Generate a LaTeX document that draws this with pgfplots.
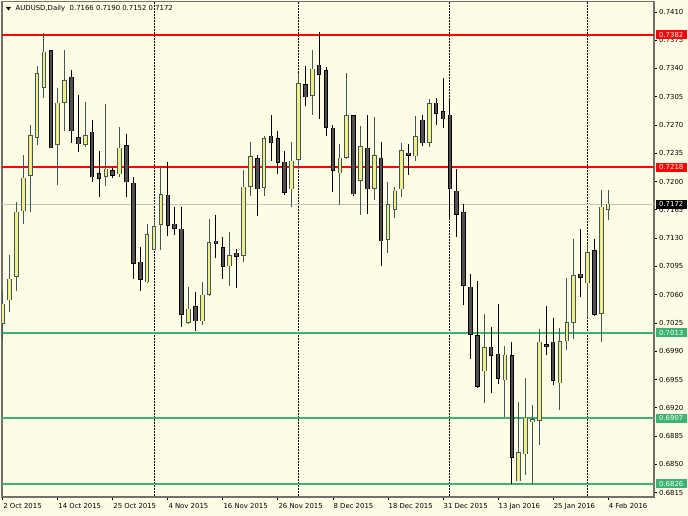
\documentclass[border=0pt]{standalone}
\usepackage{pgfplots}
\pgfplotsset{compat=1.18}
\usepackage{pgfplotstable}
\usepackage{fontspec}
\setmainfont{DejaVu Sans}
\definecolor{bgc}{RGB}{255,252,230}
\definecolor{bullfill}{RGB}{244,236,132}
\definecolor{bullline}{RGB}{60,90,90}
\definecolor{bearfill}{RGB}{80,80,80}
\definecolor{msg}{RGB}{60,179,113}
\definecolor{axisgray}{RGB}{112,112,112}
\definecolor{bidgray}{RGB}{196,196,196}
\newcommand{\lab}{\fontsize{6.9}{8}\selectfont}

\pgfplotstableread{
i O H L C
0 0.7025 0.7064 0.7002 0.7048
1 0.7054 0.7109 0.7039 0.7079
2 0.7083 0.7175 0.7064 0.7162
3 0.7164 0.7233 0.7148 0.7204
4 0.7208 0.7270 0.7162 0.7257
5 0.7255 0.7343 0.7245 0.7333
6 0.7317 0.7384 0.7304 0.7360
8 0.7246 0.7316 0.7196 0.7297
9 0.7298 0.7363 0.7263 0.7325
12 0.7246 0.7298 0.7243 0.7257
15 0.7207 0.7296 0.7195 0.7215
17 0.7210 0.7268 0.7206 0.7241
21 0.7076 0.7147 0.7074 0.7134
22 0.7116 0.7154 0.7115 0.7144
23 0.7147 0.7218 0.7115 0.7184
27 0.7026 0.7069 0.7024 0.7042
29 0.7028 0.7076 0.7023 0.7059
30 0.7061 0.7154 0.7058 0.7124
33 0.7096 0.7138 0.7071 0.7108
35 0.7109 0.7214 0.7100 0.7193
36 0.7194 0.7249 0.7182 0.7231
38 0.7193 0.7257 0.7182 0.7253
42 0.7191 0.7249 0.7169 0.7225
43 0.7228 0.7335 0.7215 0.7321
45 0.7307 0.7363 0.7283 0.7339
49 0.7211 0.7246 0.7171 0.7229
50 0.7230 0.7335 0.7228 0.7281
52 0.7202 0.7269 0.7159 0.7243
54 0.7192 0.7280 0.7177 0.7232
56 0.7129 0.7200 0.7111 0.7171
57 0.7166 0.7193 0.7155 0.7188
58 0.7191 0.7248 0.7181 0.7238
60 0.7232 0.7281 0.7226 0.7255
62 0.7249 0.7302 0.7243 0.7296
70 0.6966 0.7036 0.6926 0.6994
73 0.6955 0.6996 0.6909 0.6985
75 0.6830 0.6927 0.6829 0.6864
76 0.6863 0.6957 0.6837 0.6907
77 0.6903 0.6924 0.6826 0.6905
78 0.6905 0.7018 0.6874 0.7001
81 0.6951 0.7019 0.6917 0.7002
82 0.7003 0.7081 0.6991 0.7025
83 0.7026 0.7129 0.7005 0.7083
85 0.7075 0.7123 0.7031 0.7112
87 0.7037 0.7189 0.7001 0.7168
88 0.7166 0.7190 0.7152 0.7172
}\bull

\pgfplotstableread{
i O H L C
7 0.7362 0.7363 0.7241 0.7242
10 0.7329 0.7338 0.7248 0.7263
11 0.7254 0.7307 0.7236 0.7247
13 0.7261 0.7276 0.7200 0.7206
14 0.7210 0.7238 0.7181 0.7204
16 0.7213 0.7217 0.7205 0.7208
18 0.7244 0.7259 0.7181 0.7200
19 0.7198 0.7206 0.7079 0.7099
20 0.7100 0.7119 0.7064 0.7079
24 0.7183 0.7224 0.7133 0.7146
25 0.7147 0.7169 0.7134 0.7142
26 0.7141 0.7169 0.7020 0.7036
28 0.7045 0.7063 0.7015 0.7028
31 0.7126 0.7159 0.7105 0.7123
32 0.7118 0.7131 0.7079 0.7095
34 0.7111 0.7116 0.7068 0.7108
37 0.7228 0.7233 0.7157 0.7191
39 0.7256 0.7283 0.7225 0.7248
40 0.7253 0.7262 0.7210 0.7224
41 0.7224 0.7238 0.7184 0.7187
44 0.7320 0.7343 0.7293 0.7305
46 0.7344 0.7385 0.7278 0.7333
47 0.7337 0.7342 0.7256 0.7267
48 0.7266 0.7270 0.7187 0.7214
51 0.7281 0.7282 0.7182 0.7185
53 0.7241 0.7283 0.7160 0.7191
55 0.7229 0.7249 0.7096 0.7127
59 0.7235 0.7247 0.7208 0.7233
61 0.7276 0.7283 0.7244 0.7248
63 0.7297 0.7303 0.7270 0.7285
64 0.7286 0.7328 0.7266 0.7278
65 0.7282 0.7301 0.7152 0.7191
66 0.7188 0.7215 0.7131 0.7160
67 0.7162 0.7172 0.7047 0.7072
68 0.7069 0.7086 0.6980 0.7011
69 0.7009 0.7077 0.6945 0.6947
71 0.6995 0.7020 0.6938 0.6985
72 0.6986 0.7049 0.6949 0.6957
74 0.6984 0.7002 0.6826 0.6859
79 0.6998 0.7046 0.6985 0.6996
80 0.7001 0.7031 0.6948 0.6954
84 0.7085 0.7141 0.7057 0.7082
86 0.7114 0.7129 0.7034 0.7036
}\bear

\begin{document}
\begin{tikzpicture}
\fill[bgc] (0,0) rectangle (688pt,516pt);
\useasboundingbox (0,0) rectangle (688pt,516pt);
\begin{axis}[
  at={(2pt,19pt)}, anchor=south west,
  scale only axis, width=652pt, height=495.5pt,
  xmin=-0.1, xmax=94.67, ymin=0.68096, ymax=0.74229,
  axis background/.style={fill=bgc},
  axis line style={draw=axisgray, line width=1.2pt},
  xtick={0,8,16,24,32,40,48,56,64,72,80,88},
  xticklabels={2 Oct 2015,14 Oct 2015,25 Oct 2015,4 Nov 2015,16 Nov 2015,26 Nov 2015,8 Dec 2015,18 Dec 2015,31 Dec 2015,13 Jan 2016,25 Jan 2016,4 Feb 2016},
  ytick={0.6815,0.6850,0.6885,0.6920,0.6955,0.6990,0.7025,0.7060,0.7095,0.7130,0.7165,0.7200,0.7235,0.7270,0.7305,0.7340,0.7375,0.7410},
  yticklabels={0.6815,0.6850,0.6885,0.6920,0.6955,0.6990,0.7025,0.7060,0.7095,0.7130,0.7165,0.7200,0.7235,0.7270,0.7305,0.7340,0.7375,0.7410},
  xtick pos=left, ytick pos=right, xticklabel pos=left, yticklabel pos=right,
  tick align=outside, major tick length=3pt,
  tick style={draw=black, line width=0.8pt},
  xticklabel style={font=\lab, anchor=north west, inner sep=0pt, xshift=0.5pt, yshift=-3pt},
  yticklabel style={font=\lab, anchor=west, inner sep=0pt, xshift=2pt},
  clip=true,
]
% month separators
\addplot[black, line width=0.8pt, dash pattern=on 1.5pt off 1.5pt] coordinates {(22,0.67) (22,0.75)};
\addplot[black, line width=0.8pt, dash pattern=on 1.5pt off 1.5pt] coordinates {(43,0.67) (43,0.75)};
\addplot[black, line width=0.8pt, dash pattern=on 1.5pt off 1.5pt] coordinates {(65,0.67) (65,0.75)};
\addplot[black, line width=0.8pt, dash pattern=on 1.5pt off 1.5pt] coordinates {(85,0.67) (85,0.75)};
% horizontal levels
\addplot[red, line width=2pt] coordinates {(-1,0.7382) (96,0.7382)};
\addplot[red, line width=2pt] coordinates {(-1,0.7218) (96,0.7218)};
\addplot[msg, line width=1.8pt] coordinates {(-1,0.7013) (96,0.7013)};
\addplot[msg, line width=1.8pt] coordinates {(-1,0.6907) (96,0.6907)};
\addplot[msg, line width=1.8pt] coordinates {(-1,0.6826) (96,0.6826)};
\addplot[bidgray, line width=1pt] coordinates {(-1,0.7172) (96,0.7172)};
% wicks
\addplot[draw=bullline, line width=1pt, quiver={u=0, v=\thisrow{H}-\thisrow{L}}] table[x=i, y=L] {\bull};
\addplot[draw=black, line width=1pt, quiver={u=0, v=\thisrow{H}-\thisrow{L}}] table[x=i, y=L] {\bear};
% bodies: outline
\addplot[draw=bullline, line width=4.6pt, quiver={u=0, v=\thisrow{C}-\thisrow{O}+0.00016}] table[x=i, y expr=\thisrow{O}-0.00008] {\bull};
\addplot[draw=black, line width=4.6pt, quiver={u=0, v=\thisrow{O}-\thisrow{C}+0.00016}] table[x=i, y expr=\thisrow{C}-0.00008] {\bear};
% bodies: fill
\addplot[draw=bullfill, line width=2.6pt, quiver={u=0, v=\thisrow{C}-\thisrow{O}}] table[x=i, y=O] {\bull};
\addplot[draw=bearfill, line width=2.6pt, quiver={u=0, v=\thisrow{O}-\thisrow{C}}] table[x=i, y=C] {\bear};
\coordinate (r1) at (axis cs:94.67,0.7382);
\coordinate (r2) at (axis cs:94.67,0.7218);
\coordinate (bid) at (axis cs:94.67,0.7172);
\coordinate (g1) at (axis cs:94.67,0.7013);
\coordinate (g2) at (axis cs:94.67,0.6907);
\coordinate (g3) at (axis cs:94.67,0.6826);
\end{axis}
\tikzset{pbox/.style={anchor=west, text=white, font=\lab, inner sep=0pt, minimum height=9pt, minimum width=31pt, xshift=1.5pt}}
\node[pbox, fill=red] at (r1) {0.7382};
\node[pbox, fill=red] at (r2) {0.7218};
\node[pbox, fill=black] at (bid) {0.7172};
\node[pbox, fill=msg] at (g1) {0.7013};
\node[pbox, fill=msg] at (g2) {0.6907};
\node[pbox, fill=msg] at (g3) {0.6826};
% title
\fill[black] (6pt,509pt) -- (11pt,509pt) -- (8.5pt,505.5pt) -- cycle;
\node[anchor=west, inner sep=0pt, font=\lab] at (15.5pt,507.5pt) {AUDUSD,Daily\hspace{4.5pt}0.7166 0.7190 0.7152 0.7172};
\end{tikzpicture}
\end{document}
